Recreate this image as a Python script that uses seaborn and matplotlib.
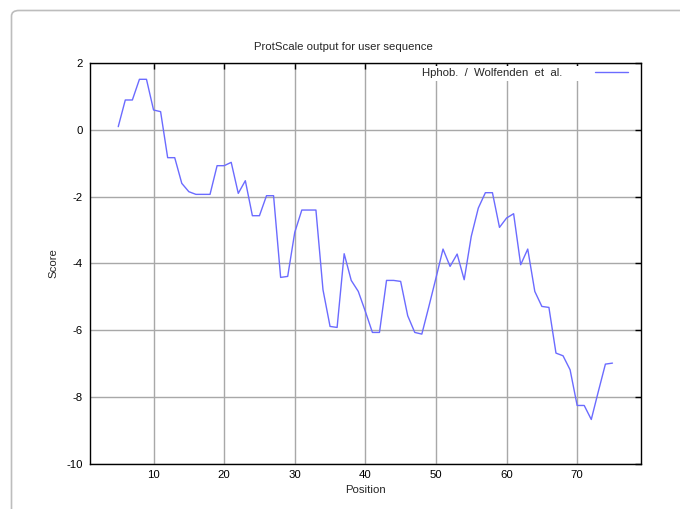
import matplotlib
matplotlib.use("Agg")
import matplotlib.pyplot as plt
from matplotlib.patches import FancyBboxPatch
import seaborn as sns
import pandas as pd

# Hydrophobicity profile (window of 9), positions 5..75
positions = list(range(5, 76))
scores = [
    0.10, 0.90, 0.90, 1.52, 1.52, 0.60, 0.55, -0.83, -0.83, -1.60,
    -1.85, -1.93, -1.93, -1.93, -1.07, -1.07, -0.97, -1.90, -1.52, -2.57,
    -2.57, -1.97, -1.97, -4.42, -4.39, -3.07, -2.40, -2.40, -2.40, -4.79,
    -5.89, -5.92, -3.71, -4.51, -4.84, -5.44, -6.07, -6.07, -4.51, -4.51,
    -4.54, -5.57, -6.07, -6.12, -5.29, -4.44, -3.57, -4.09, -3.72, -4.49,
    -3.19, -2.34, -1.88, -1.88, -2.92, -2.64, -2.51, -4.04, -3.57, -4.84,
    -5.29, -5.32, -6.69, -6.77, -7.19, -8.26, -8.26, -8.68, -7.84, -7.02,
    -6.99,
]
series_label = "Hphob.  /  Wolfenden  et  al."
x_ticks = [10, 20, 30, 40, 50, 60, 70]
y_ticks = [-10, -8, -6, -4, -2, 0, 2]

df = pd.DataFrame({"Position": positions, "Score": scores})

FS = 8.2
sns.set_theme(style="white")
plt.rcParams["font.family"] = ["Liberation Sans", "DejaVu Sans"]
plt.rcParams["font.size"] = FS
plt.rcParams["axes.unicode_minus"] = False

W, H = 680, 509
fig = plt.figure(figsize=(6.8, 5.09), dpi=100)
ax = fig.add_axes([90 / W, 1 - 463.5 / H, (640.7 - 90) / W, (463.5 - 63.3) / H])

# rounded frame around the page
frame = FancyBboxPatch((11.5 / W, -0.1), 1.1, 1.1 - 10.5 / H,
                       boxstyle="round,pad=0,rounding_size=0.011",
                       transform=fig.transFigure, facecolor="none",
                       edgecolor="#bdbdbd", linewidth=1.2, zorder=0)
fig.patches.append(frame)

sns.lineplot(data=df, x="Position", y="Score", ax=ax, color="#6b6bff",
             linewidth=1.0, label=series_label, zorder=3)

ax.set_xlim(1, 79)
ax.set_ylim(-10, 2)
ax.set_xticks(x_ticks)
ax.set_yticks(y_ticks)
ax.grid(True, color="#a8a8a8", linewidth=1.0)
ax.set_axisbelow(True)
for s in ax.spines.values():
    s.set_color("black")
    s.set_linewidth(1.0)
    s.set_visible(True)
ax.tick_params(direction="in", length=4, width=1, color="black",
               top=True, right=True, labelsize=FS, pad=5, labelcolor="black")
ax.set_xlabel("Position", fontsize=FS, labelpad=3)
ax.set_ylabel("Score", fontsize=FS, labelpad=6)

fig.text(0.505, 1 - 47 / H, "ProtScale output for user sequence",
         ha="center", va="center", fontsize=FS)

leg = ax.legend(loc="upper right", bbox_to_anchor=(0.981, 0.993), frameon=True,
                fancybox=False, facecolor="white", edgecolor="none",
                framealpha=1.0, markerfirst=False, handlelength=2.9,
                handletextpad=2.9, borderpad=0.2, borderaxespad=0.0,
                fontsize=FS)

fig.savefig("out.png", dpi=100)
